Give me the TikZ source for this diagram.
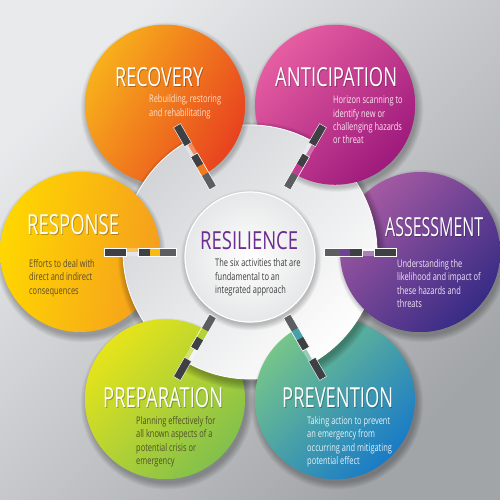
\documentclass[tikz,border=0pt]{standalone}
\usepackage{fontspec}
\usepackage{graphicx}
\newfontfamily\titlefont{Open Sans}
\newfontfamily\bodyfont[FakeStretch=0.71]{Open Sans}
\usetikzlibrary{calc}
\definecolor{bgA}{HTML}{E9EAEC}
\definecolor{bgB}{HTML}{A2A5A8}
\definecolor{recA}{HTML}{F8B01C}
\definecolor{recB}{HTML}{E8421F}
\definecolor{antA}{HTML}{E65DA1}
\definecolor{antB}{HTML}{9E1A7C}
\definecolor{assA}{HTML}{A55AA3}
\definecolor{assB}{HTML}{372B85}
\definecolor{preA}{HTML}{76C58A}
\definecolor{preB}{HTML}{197BC7}
\definecolor{prpA}{HTML}{E6E41A}
\definecolor{prpB}{HTML}{82C04C}
\definecolor{resA}{HTML}{FFD700}
\definecolor{resB}{HTML}{F59E1E}
\definecolor{discA}{HTML}{D2D4D7}
\definecolor{discB}{HTML}{FEFEFE}
\definecolor{innerB}{HTML}{E6E7E8}
\definecolor{tabdark}{HTML}{3E4043}
\definecolor{tabmid}{HTML}{5C5E61}
\definecolor{recT}{HTML}{FDE2CE}
\definecolor{antT}{HTML}{FBE6F2}
\definecolor{assT}{HTML}{F1E6F5}
\definecolor{preT}{HTML}{E8F3F8}
\definecolor{prpT}{HTML}{4E5027}
\definecolor{resT}{HTML}{5A4C2C}
\definecolor{resilT}{HTML}{6C2D8F}
\definecolor{resilB}{HTML}{3D3D3D}
\tikzset{
  recfill/.style={top color=recA,bottom color=recB,shading angle=60},
  antfill/.style={top color=antA,bottom color=antB,shading angle=45},
  assfill/.style={top color=assA,bottom color=assB,shading angle=45},
  prefill/.style={top color=preA,bottom color=preB,shading angle=45},
  prpfill/.style={top color=prpA,bottom color=prpB,shading angle=45},
  resfill/.style={top color=resA,bottom color=resB,shading angle=80},
  discfill/.style={top color=discA,bottom color=discB,shading angle=45},
  softshadow/.style={fill=black,opacity=0.035},
  bodytext/.style={anchor=base west,inner sep=0pt,font=\bodyfont\fontsize{10.5pt}{12pt}\selectfont},
  titletext/.style={anchor=south west,inner sep=0pt}
}
\newcommand\mytitle[7]{%
  \node[titletext,text=black,opacity=0.28] (#1s) at ({#2+0.8},{#3-1.2}) {\resizebox{#4pt}{#5pt}{\titlefont #6}};
  \node[titletext,text=#7] (#1) at (#2,#3) {\resizebox{#4pt}{#5pt}{\titlefont #6}};
}
\newcommand\bodyline[5]{\node[bodytext,text=#4] (#1) at (#2,#3) {#5};}
\begin{document}
\begin{tikzpicture}[x=1pt,y=1pt]
\useasboundingbox (0,0) rectangle (500,500);
\shade[top color=bgA,bottom color=bgB,shading angle=45] (0,0) rectangle (500,500);
\coordinate (C) at (250,248);
\coordinate (I) at (250,243);
\foreach \n/\a in {rec/120,ant/60,ass/0,pre/-60,prp/240,res/180}
  \coordinate (c-\n) at ($(C)+(\a:170)$);
% shadows of coloured circles
\foreach \n in {rec,ant,ass,pre,prp,res}
  \foreach \k in {0,...,7}
    \fill[softshadow] ($(c-\n)+(2,-4)$) circle ({80+\k*0.9});
% full coloured circles
\foreach \n in {rec,ant,ass,pre,prp,res}
  \shade[\n fill] (c-\n) circle (80);
% white disc
\foreach \k in {0,...,8}
  \fill[softshadow] ($(C)+(2,-4)$) circle ({127+\k*0.9});
\shade[discfill] (C) circle (127);
\draw[white,line width=0.8] (C) circle (127);
% halves lying over the disc
\foreach \n/\a in {rec/120,ant/60,ass/0,pre/-60,prp/240,res/180}{
  \begin{scope}
    \clip[shift={(C)},rotate=\a] (0,0) rectangle (260,-110);
    \begin{scope}
      \clip (C) circle (127);
      \foreach \k in {0,...,5}
        \fill[softshadow] ($(c-\n)+(1.5,-3)$) circle ({80+\k*0.8});
    \end{scope}
    \shade[\n fill] (c-\n) circle (80);
  \end{scope}
}
% inner circle
\foreach \k in {0,...,6}
  \fill[softshadow] ($(I)+(1,-3)$) circle ({65+\k*0.9});
\shade[inner color=white,outer color=innerB] (I) circle (65);
\draw[white,line width=1.2] (I) circle (65);
% tabs
\foreach \n/\a in {rec/120,ant/60,ass/0,pre/-60,prp/240,res/180}{
  \begin{scope}[shift={(C)},rotate=\a]
    \fill[white,opacity=0.3] (112,-4) rectangle (124,4);
    \fill[tabdark,draw=white,line width=0.4] (124,-4) rectangle (146,4);
    \fill[tabmid] (74,-4) rectangle (90,4);
    \fill[\n A!50!\n B] (90,-4) rectangle (100,4);
    \fill[tabdark] (100,-4) rectangle (112,4);
    \draw[white,line width=0.6] (74,-4) rectangle (112,4);
  \end{scope}
}
% titles
\mytitle{trec}{115}{413}{88}{19}{RECOVERY}{white}
\mytitle{tant}{275}{413}{122}{19}{ANTICIPATION}{white}
\mytitle{tass}{385}{263}{98}{19}{ASSESSMENT}{white}
\mytitle{tpre}{282}{92}{111}{20}{PREVENTION}{white}
\mytitle{tprp}{103}{92}{120}{20}{PREPARATION}{white}
\mytitle{tres}{27}{265}{92}{20}{RESPONSE}{white}
\node[titletext,text=resilT] (tresil) at (200,250) {\resizebox{98pt}{18pt}{\titlefont RESILIENCE}};
% body texts
\bodyline{rec1}{149}{397}{recT}{Rebuilding, restoring}
\bodyline{rec2}{149}{383.5}{recT}{and rehabilitating}
\bodyline{ant1}{333}{396}{antT}{Horizon scanning to}
\bodyline{ant2}{333}{382.7}{antT}{identify new or}
\bodyline{ant3}{333}{369.4}{antT}{challenging hazards}
\bodyline{ant4}{333}{356}{antT}{or threat}
\bodyline{ass1}{397}{232}{assT}{Understanding the}
\bodyline{ass2}{397}{219}{assT}{likelihood and impact of}
\bodyline{ass3}{397}{205.5}{assT}{these hazards and}
\bodyline{ass4}{397}{192}{assT}{threats}
\bodyline{pre1}{307}{75.5}{preT}{Taking action to prevent}
\bodyline{pre2}{307}{62}{preT}{an emergency from}
\bodyline{pre3}{307}{48.5}{preT}{occurring and mitigating}
\bodyline{pre4}{307}{35}{preT}{potential effect}
\bodyline{prp1}{136}{75.5}{prpT}{Planning effectively for}
\bodyline{prp2}{136}{62}{prpT}{all known aspects of a}
\bodyline{prp3}{136}{48.5}{prpT}{potential crisis or}
\bodyline{prp4}{136}{35}{prpT}{emergency}
\bodyline{res1}{29}{232}{resT}{Efforts to deal with}
\bodyline{res2}{29}{219}{resT}{direct and indirect}
\bodyline{res3}{29}{205.5}{resT}{consequences}
\bodyline{sil1}{215}{233}{resilB}{The six activities that are}
\bodyline{sil2}{215}{219.5}{resilB}{fundamental to an}
\bodyline{sil3}{215}{206}{resilB}{integrated approach}
\end{tikzpicture}
\end{document}
